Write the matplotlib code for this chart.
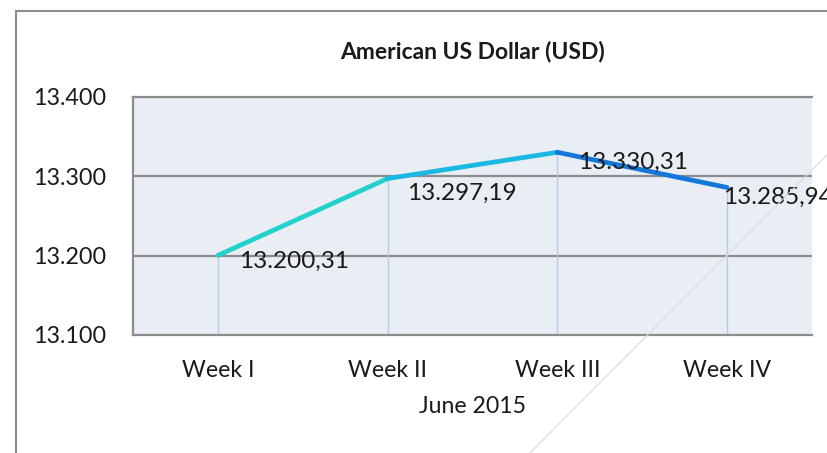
import matplotlib.pyplot as plt
from matplotlib.collections import LineCollection
import numpy as np

# ---------------- data ----------------
weeks = ["Week I", "Week II", "Week III", "Week IV"]
usd_rate = [13200.31, 13297.19, 13330.31, 13285.94]
rate_labels = ["13.200,31", "13.297,19", "13.330,31", "13.285,94"]
y_ticks = [13100, 13200, 13300, 13400]
y_tick_labels = ["13.100", "13.200", "13.300", "13.400"]

# ---------------- styling ----------------
seg_colors = ["#22D0CC", "#1CB8E4", "#1478DA"]
label_offsets = [(15, -4), (14, -11), (15, -7), (-3, -7)]   # points
font = "Lato"
plot_bg = "#E9EDF4"
grid_gray = "#8C8C8C"
txt = "#1A1A1A"

fig = plt.figure(figsize=(8.27, 4.53), dpi=100)
ax = fig.add_axes([0.1608, 0.2605, 0.821, 0.5254])
ax.set_facecolor(plot_bg)

# outer chart border (cut by the image edge)
fig.patches.append(plt.Rectangle((16 / 827, -0.1), 1.2, 1 - 11 / 453 + 0.1,
                                 transform=fig.transFigure, fill=False,
                                 edgecolor="#8C8C8C", linewidth=1.5, zorder=0))

# faint watermark stroke
fig.add_artist(plt.Line2D([827 / 827, 530 / 827], [1 - 155 / 453, 0],
                          transform=fig.transFigure, color="#DADADA", lw=0.8))

x = np.arange(len(weeks))

# horizontal gridlines
for yv in y_ticks[1:]:
    ax.axhline(yv, color=grid_gray, lw=1.6, zorder=1)

# drop lines
ax.vlines(x, y_ticks[0], usd_rate, color="#B7CBE8", lw=1.0, zorder=2)

# line, colour shifting from teal to blue
pts = np.column_stack([x, usd_rate])
segs = [pts[i:i + 2] for i in range(len(pts) - 1)]
lc = LineCollection(segs, colors=seg_colors, linewidths=3.4,
                    capstyle="round", joinstyle="round", zorder=4)
ax.add_collection(lc)

for xi, yi, lab, off in zip(x, usd_rate, rate_labels, label_offsets):
    ax.annotate(lab, (xi, yi), xytext=off, textcoords="offset points",
                ha="left", va="center", fontsize=17.5, family=font,
                color=txt, zorder=5, annotation_clip=False)

ax.set_xlim(-0.5, len(weeks) - 0.5)
ax.set_ylim(y_ticks[0], y_ticks[-1])
ax.set_xticks(x)
ax.set_xticklabels(weeks, fontsize=16.6, family=font, color=txt)
ax.set_yticks(y_ticks)
ax.set_yticklabels(y_tick_labels, fontsize=16.8, family=font, color=txt)
ax.tick_params(axis="x", length=0, pad=18)
ax.tick_params(axis="y", length=0, pad=19)
ax.set_xlabel("June 2015", fontsize=16.6, family=font, color=txt, labelpad=11)
ax.set_title("American US Dollar (USD)", fontsize=16.5, fontweight="bold",
             family=font, color=txt, pad=28)

for side in ["left", "bottom", "top"]:
    ax.spines[side].set_color(grid_gray)
    ax.spines[side].set_linewidth(1.6)
ax.spines["right"].set_visible(False)

fig.savefig("out.png", dpi=100)
